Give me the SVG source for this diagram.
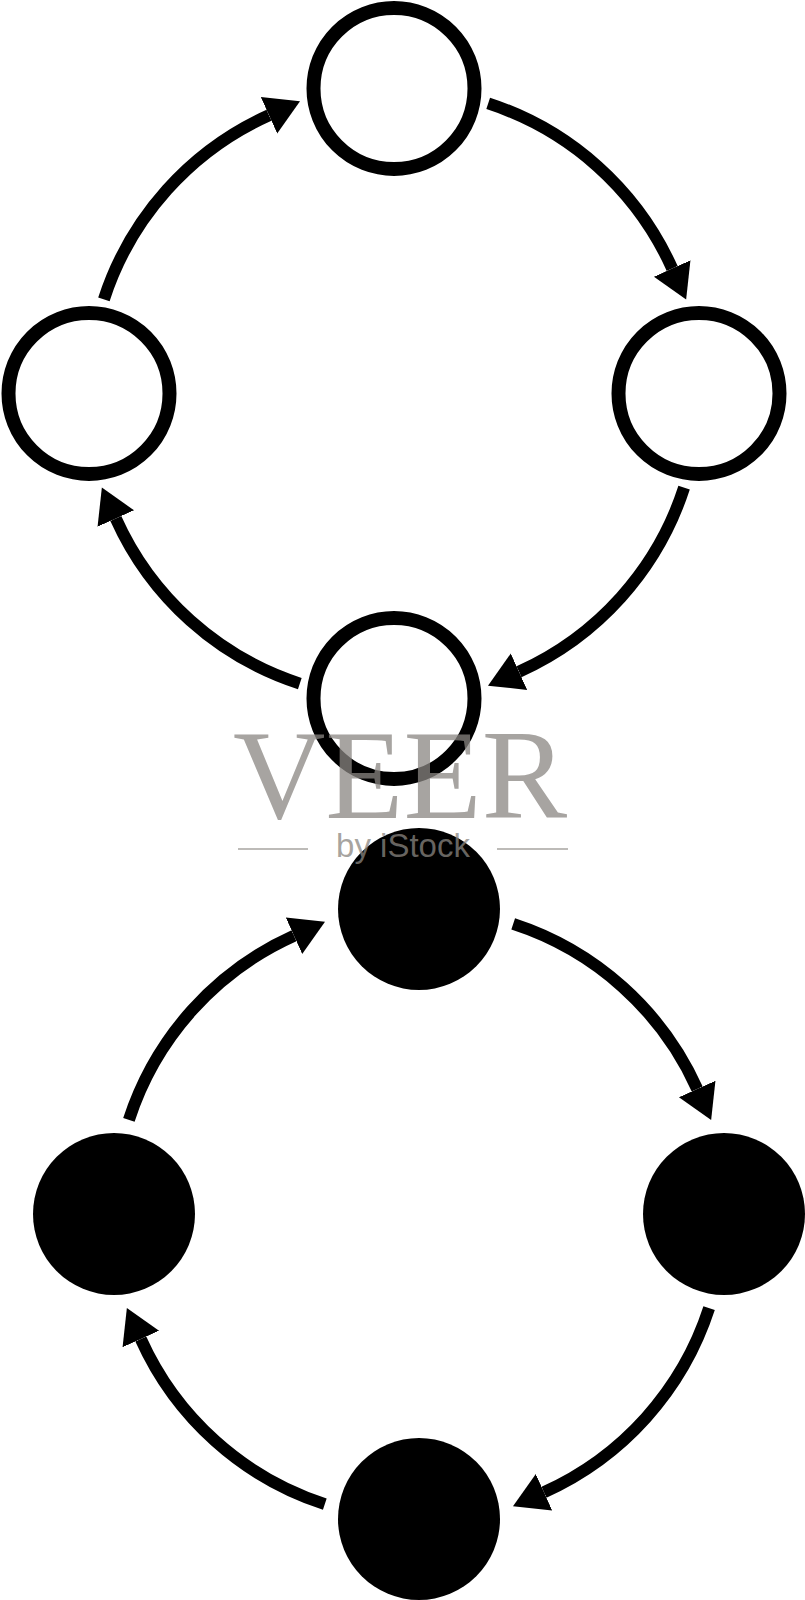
<svg xmlns="http://www.w3.org/2000/svg" width="805" height="1600" viewBox="0 0 805 1600">
<style>
.ring{fill:#fff;stroke:#000;stroke-width:14}
.dot{fill:#000}
.arc{fill:none;stroke:#000;stroke-width:12}
.wm{fill:#8a8681;fill-opacity:0.75}
.wml{stroke:#8a8681;stroke-opacity:0.75;stroke-width:1.6}
</style>
<defs>
<marker id="ah" markerUnits="userSpaceOnUse" markerWidth="40" markerHeight="44" refX="0" refY="20" orient="auto" viewBox="0 0 40 40">
<path d="M0,0 L34,20 L0,40 Z" fill="#000"/>
</marker>
</defs>
<rect width="805" height="1600" fill="#fff"/>
<g id="top-cycle">
<g id="connectors-top">
<path class="arc" marker-end="url(#ah)" d="M488.2,103.4 A305,305 0 0 1 672.2,268.5"/>
<path class="arc" marker-end="url(#ah)" d="M684.1,487.7 A305,305 0 0 1 519.0,671.7"/>
<path class="arc" marker-end="url(#ah)" d="M299.8,683.6 A305,305 0 0 1 115.8,518.5"/>
<path class="arc" marker-end="url(#ah)" d="M103.9,299.3 A305,305 0 0 1 269.0,115.3"/>
</g>
<g id="t1"><circle class="ring" cx="394" cy="88.5" r="80.5"/></g>
<g id="t2"><circle class="ring" cx="699" cy="393.5" r="80.5"/></g>
<g id="t3"><circle class="ring" cx="394" cy="698.5" r="80.5"/></g>
<g id="t4"><circle class="ring" cx="89" cy="393.5" r="80.5"/></g>
</g>
<g id="bottom-cycle" transform="translate(25,820.5)">
<g id="connectors-bottom">
<path class="arc" marker-end="url(#ah)" d="M488.2,103.4 A305,305 0 0 1 672.2,268.5"/>
<path class="arc" marker-end="url(#ah)" d="M684.1,487.7 A305,305 0 0 1 519.0,671.7"/>
<path class="arc" marker-end="url(#ah)" d="M299.8,683.6 A305,305 0 0 1 115.8,518.5"/>
<path class="arc" marker-end="url(#ah)" d="M103.9,299.3 A305,305 0 0 1 269.0,115.3"/>
</g>
<g id="b1"><circle class="dot" cx="394" cy="88.5" r="81"/></g>
<g id="b2"><circle class="dot" cx="699" cy="393.5" r="81"/></g>
<g id="b3"><circle class="dot" cx="394" cy="698.5" r="81"/></g>
<g id="b4"><circle class="dot" cx="89" cy="393.5" r="81"/></g>
</g>
<g id="watermark">
<text class="wm" x="400" y="818" text-anchor="middle" font-family="Liberation Serif, serif" font-size="128">VEER</text>
<text class="wm" x="403" y="857" text-anchor="middle" font-family="Liberation Sans, sans-serif" font-size="33">by iStock</text>
<line class="wml" x1="238" y1="849" x2="308" y2="849"/>
<line class="wml" x1="497" y1="849" x2="568" y2="849"/>
</g>
</svg>
